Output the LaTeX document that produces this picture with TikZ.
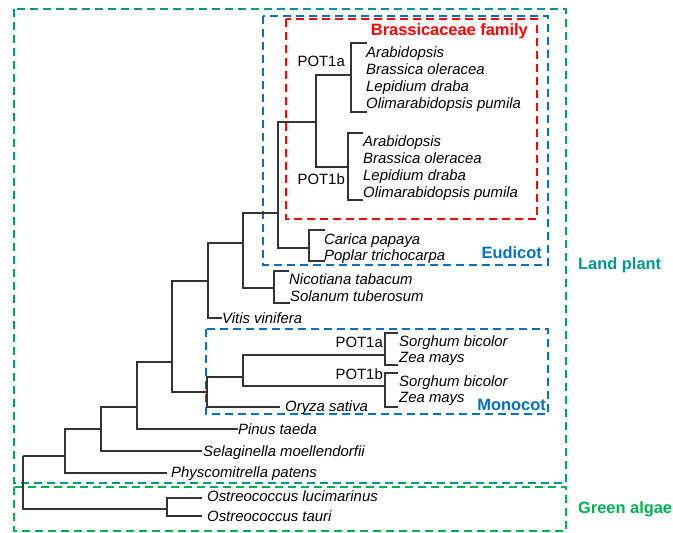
\documentclass[tikz,border=0pt]{standalone}
\usepackage{fontspec}
\setmainfont{Liberation Sans}
\definecolor{landc}{HTML}{00968F}
\definecolor{algc}{HTML}{00B050}
\definecolor{bluec}{HTML}{0070C0}
\definecolor{redc}{HTML}{FF0000}
\definecolor{treec}{HTML}{333333}
\begin{document}
\begin{tikzpicture}[x=1pt,y=-1pt,
  branch/.style={draw=treec, line width=1.1pt},
  sp/.style={font=\fontsize{14.9}{17}\selectfont\itshape, anchor=mid west, inner sep=0pt, yshift=-1.5pt},
  pot/.style={font=\fontsize{14.9}{17}\selectfont, anchor=mid east, inner sep=0pt, yshift=-1.5pt},
  grp/.style={font=\fontsize{16.4}{19}\selectfont\bfseries, inner sep=0pt, yshift=-1pt},
  gbox/.style={dash pattern=on 8pt off 5pt, line width=1.8pt}]
\useasboundingbox (0,0) rectangle (673,533);
% group boxes
\coordinate (lpA) at (14,9);   \coordinate (lpB) at (566,483);
\coordinate (gaA) at (14,487); \coordinate (gaB) at (566,531);
\coordinate (euA) at (263,16); \coordinate (euB) at (548,265);
\coordinate (brA) at (286,19); \coordinate (brB) at (537,219);
\coordinate (moA) at (206,329);\coordinate (moB) at (548,414);
\draw[gbox, landc] (lpA) rectangle (lpB);
\draw[gbox, algc] (gaA) rectangle (gaB);
\draw[gbox, bluec] (euA) rectangle (euB);
\draw[gbox, redc] (brA) rectangle (brB);
\draw[gbox, bluec] (moA) rectangle (moB);
% tree coordinates
\coordinate (r0) at (23,456);
\coordinate (LP) at (65,456);
\coordinate (GA) at (167,509);
\coordinate (n2) at (101,429);
\coordinate (phy) at (167,473);
\coordinate (n3) at (137,407);
\coordinate (sel) at (202,451);
\coordinate (n4) at (172,362);
\coordinate (pin) at (238,429);
\coordinate (n5) at (208,281);
\coordinate (m0) at (207,392);
\coordinate (n6) at (243,243);
\coordinate (vit) at (222,318);
\coordinate (n7) at (278,213);
\coordinate (s0) at (274,288);
\coordinate (s1) at (289,271);
\coordinate (s2) at (290,303);
\coordinate (B0) at (316,122);
\coordinate (cp) at (309,248);
\coordinate (cp1) at (325,230);
\coordinate (cp2) at (325,261);
\coordinate (Ba) at (351,75);
\coordinate (Ba1) at (367,43);
\coordinate (Ba2) at (367,112);
\coordinate (Bb) at (348,167);
\coordinate (Bb1) at (363,133);
\coordinate (Bb2) at (363,200);
\coordinate (m1) at (243,377);
\coordinate (ory) at (280,407);
\coordinate (ma) at (385,355);
\coordinate (ma1) at (398,333);
\coordinate (ma2) at (398,365);
\coordinate (mb) at (385,386);
\coordinate (mb1) at (398,373);
\coordinate (mb2) at (398,407);
\coordinate (ga1) at (202,498);
\coordinate (ga2) at (202,516);
\foreach \p/\c in {r0/LP, r0/GA, LP/n2, LP/phy, n2/n3, n2/sel, n3/n4, n3/pin,
  n4/n5, n4/m0, n5/n6, n5/vit, n6/n7, n6/s0, s0/s1, s0/s2, n7/B0, n7/cp,
  cp/cp1, cp/cp2, B0/Ba, B0/Bb, Ba/Ba1, Ba/Ba2, Bb/Bb1, Bb/Bb2,
  m0/m1, m0/ory, m1/ma, m1/mb, ma/ma1, ma/ma2, mb/mb1, mb/mb2, GA/ga1, GA/ga2}
  \draw[branch] (\p) |- (\c);
% labels
\node[pot] (pa1) at (345,62) {POT1a};
\node[pot] (pb1) at (345,180) {POT1b};
\node[sp] (t1) at (366,53) {Arabidopsis};
\node[sp] (t2) at (366,70) {Brassica oleracea};
\node[sp] (t3) at (366,87) {Lepidium draba};
\node[sp] (t4) at (366,104) {Olimarabidopsis pumila};
\node[sp] (t5) at (363,142) {Arabidopsis};
\node[sp] (t6) at (363,159) {Brassica oleracea};
\node[sp] (t7) at (363,176) {Lepidium draba};
\node[sp] (t8) at (363,193) {Olimarabidopsis pumila};
\node[sp] (t9) at (324,240) {Carica papaya};
\node[sp] (t10) at (324,256) {Poplar trichocarpa};
\node[sp] (t11) at (289,280) {Nicotiana tabacum};
\node[sp] (t12) at (290,297) {Solanum tuberosum};
\node[sp] (t13) at (222,319) {Vitis vinifera};
\node[pot] (pa2) at (383,343) {POT1a};
\node[pot] (pb2) at (383,375) {POT1b};
\node[sp] (t14) at (399,342) {Sorghum bicolor};
\node[sp] (t15) at (399,358) {Zea mays};
\node[sp] (t16) at (399,382) {Sorghum bicolor};
\node[sp] (t17) at (399,398) {Zea mays};
\node[sp] (t18) at (285,407) {Oryza sativa};
\node[sp] (t19) at (238,430) {Pinus taeda};
\node[sp] (t20) at (203,452) {Selaginella moellendorfii};
\node[sp] (t21) at (171,473) {Physcomitrella patens};
\node[sp] (t22) at (207,497) {Ostreococcus lucimarinus};
\node[sp] (t23) at (207,517) {Ostreococcus tauri};
\node[grp, redc, anchor=mid east] (gbr) at (528,32) {Brassicaceae family};
\node[grp, bluec, anchor=mid east] (geu) at (542,255) {Eudicot};
\node[grp, bluec, anchor=mid east] (gmo) at (546,407) {Monocot};
\node[grp, landc, anchor=mid west] (glp) at (578,266) {Land plant};
\node[grp, algc, anchor=mid west] (gga) at (578,510) {Green algae};
\end{tikzpicture}
\end{document}
